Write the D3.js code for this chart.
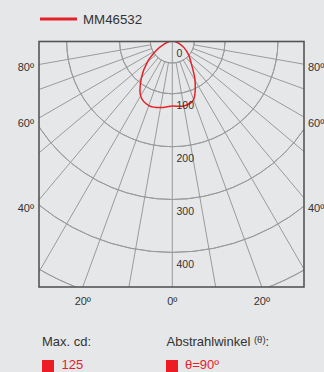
<!DOCTYPE html>
<html><head><meta charset="utf-8">
<script src="https://cdn.jsdelivr.net/npm/d3@7"></script>
<style>
html,body{margin:0;padding:0;background:#e6e7e9;}
svg{display:block;}
text{font-family:"Liberation Sans",Arial,sans-serif;}
</style></head>
<body>
<svg id="c" width="324" height="372"></svg>
<script>
// ---- data ----
const seriesName = "MM46532";
const angles    = [-90,-80,-70,-60,-50,-40,-30,-20,-10,0,10,20,30,40,50,60,70,80,90];
const intensity = [0,5,15,34,61,91,120,130,128,123,125,118,86,56,40,26,14,5,0];
const ringValues = [100,200,300,400,500];
const ringLabels = [0,100,200,300,400];
const spokeAngles = [-80,-70,-60,-50,-40,-30,-20,-10,10,20,30,40,50,60,70,80];
const sideLabelAngles = [80,60,40];
const bottomLabelAngles = [-20,0,20];
const maxCd = "125";
const beamAngle = "θ=90º";

// ---- layout ----
const svg = d3.select("#c");
const W = 324, H = 372;
svg.append("rect").attr("width",W).attr("height",H).attr("fill","#e6e7e9");
const box = {x0:39, x1:304, y0:41.5, y1:287};
const ox = 172.3, oy = 41;
const r = d3.scaleLinear().domain([0,100]).range([0,52.83]);
const red = "#e42229";
const grid = "#9a9a9a";
const rad = a => a*Math.PI/180;

svg.append("clipPath").attr("id","clip").append("rect")
  .attr("x",box.x0).attr("y",box.y0).attr("width",box.x1-box.x0).attr("height",box.y1-box.y0);
const g = svg.append("g").attr("clip-path","url(#clip)");
const og = g.append("g").attr("transform",`translate(${ox},${oy})`);

// rings
const arc = d3.arc().startAngle(Math.PI/2).endAngle(3*Math.PI/2);
ringValues.forEach(v=>{
  og.append("path").attr("d",arc({innerRadius:r(v),outerRadius:r(v)}))
    .attr("fill","none").attr("stroke",grid).attr("stroke-width",1);
});
// inner ring
const innerR = 22;
og.append("path").attr("d",arc({innerRadius:innerR,outerRadius:innerR}))
  .attr("fill","none").attr("stroke",grid).attr("stroke-width",1);

// spokes
const farR = 600;
spokeAngles.forEach(a=>{
  const s = Math.sin(rad(a)), c = Math.cos(rad(a));
  og.append("line")
    .attr("x1",innerR*s).attr("y1",innerR*c)
    .attr("x2",farR*s).attr("y2",farR*c)
    .attr("stroke",grid).attr("stroke-width",1);
});
og.append("line").attr("x1",0).attr("y1",0).attr("x2",0).attr("y2",farR)
  .attr("stroke",grid).attr("stroke-width",1);

// curve
const pts = angles.map((a,i)=>({a, v:intensity[i]}));
const line = d3.lineRadial()
  .angle(d=>Math.PI - rad(d.a))
  .radius(d=>r(d.v))
  .curve(d3.curveCardinal.tension(0.1));
og.append("path").attr("d",line(pts))
  .attr("fill","none").attr("stroke",red).attr("stroke-width",1.5);

// box
svg.append("rect").attr("x",box.x0).attr("y",box.y0)
  .attr("width",box.x1-box.x0).attr("height",box.y1-box.y0)
  .attr("fill","none").attr("stroke","#555").attr("stroke-width",1.6);

// ring labels
ringLabels.forEach(v=>{
  svg.append("text").attr("x",ox+4.2).attr("y",oy+r(v)+15.5)
    .attr("font-size",10.5).attr("fill","#333").text(v);
});

// side labels
sideLabelAngles.forEach(a=>{
  const yEdgeL = oy + (ox-box.x0)/Math.tan(rad(a));
  const y = yEdgeL + 5 + (90-a)*0.15;
  svg.append("text").attr("x",34).attr("y",y).attr("text-anchor","end")
    .attr("font-size",11).attr("fill","#333").text(a+"º");
  svg.append("text").attr("x",308).attr("y",y)
    .attr("font-size",11).attr("fill","#333").text(a+"º");
});

// bottom labels
bottomLabelAngles.forEach(a=>{
  const x = ox + (box.y1-oy)*Math.tan(rad(a));
  svg.append("text").attr("x",x).attr("y",305).attr("text-anchor","middle")
    .attr("font-size",11).attr("fill","#333").text(Math.abs(a)+"º");
});

// legend
svg.append("line").attr("x1",40).attr("x2",77).attr("y1",19).attr("y2",19)
  .attr("stroke",red).attr("stroke-width",3);
svg.append("text").attr("x",83).attr("y",24).attr("font-size",13.3)
  .attr("fill","#333").text(seriesName);

// footer
svg.append("text").attr("x",42).attr("y",346).attr("font-size",13)
  .attr("fill","#333").text("Max. cd:");
const t2 = svg.append("text").attr("x",166.5).attr("y",346).attr("font-size",13).attr("fill","#333");
t2.append("tspan").text("Abstrahlwinkel ");
t2.append("tspan").attr("font-size",9.5).attr("dy",-3).text("(θ)");
t2.append("tspan").attr("dy",3).text(":");

svg.append("rect").attr("x",42).attr("y",360).attr("width",12).attr("height",12).attr("fill","#ed1c24");
svg.append("text").attr("x",61.5).attr("y",369).attr("font-size",13).attr("fill",red).text(maxCd);
svg.append("rect").attr("x",166).attr("y",360).attr("width",12).attr("height",12).attr("fill","#ed1c24");
svg.append("text").attr("x",185).attr("y",369).attr("font-size",13).attr("fill",red).text(beamAngle);
</script>
</body></html>
